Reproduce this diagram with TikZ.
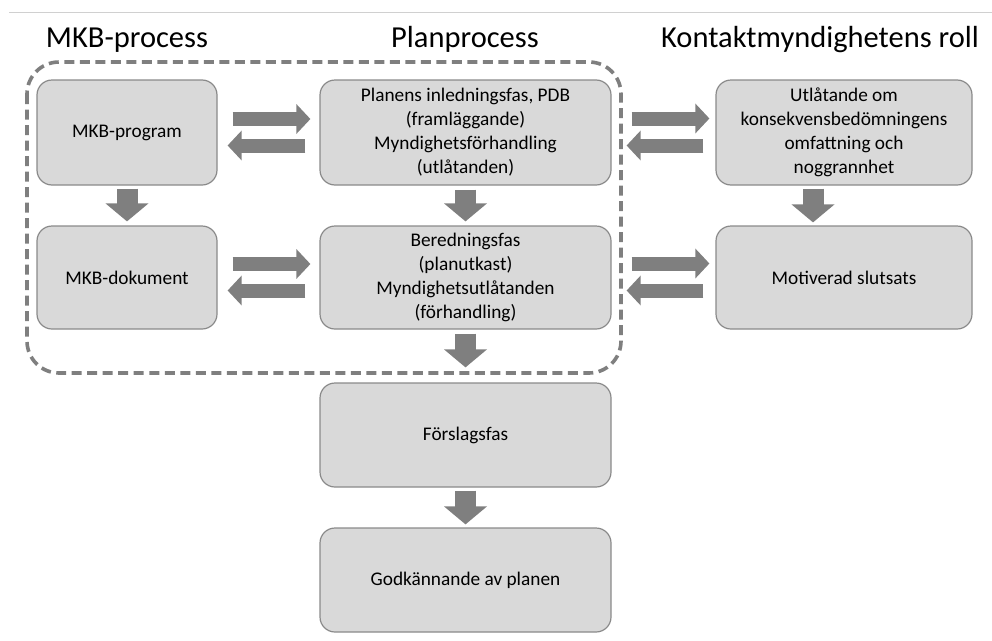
\documentclass[tikz,border=0pt]{standalone}
\usepackage{fontspec}
\setmainfont{Carlito}
\usetikzlibrary{arrows.meta,calc}
\definecolor{boxfill}{HTML}{D9D9D9}
\definecolor{boxline}{HTML}{8A8A8A}
\definecolor{arrowgray}{HTML}{7F7F7F}
\definecolor{rulegray}{HTML}{D0D0D0}
\tikzset{
  procbox/.style={draw=boxline, line width=1.2pt, fill=boxfill, rounded corners=15pt,
    align=center, inner sep=0pt, font=\fontsize{19.3}{24}\selectfont},
  titletext/.style={anchor=base, inner sep=0pt, font=\fontsize{30.5}{32}\selectfont},
  harr/.style={draw=arrowgray, line width=14pt, -{Triangle[length=14pt,width=29pt]}, arrowgray},
  varr/.style={draw=arrowgray, line width=21pt, -{Triangle[length=18pt,width=42pt]}, arrowgray},
  framebox/.style={draw=arrowgray, line width=3.6pt, dash pattern=on 10pt off 5.5pt, rounded corners=32pt}
}
\begin{document}
\begin{tikzpicture}[x=1pt,y=-1pt]
\useasboundingbox (0,0) rectangle (992,640);
% top rule
\coordinate (ruleL) at (9,12);
\coordinate (ruleR) at (992,12);
\draw[rulegray, line width=1pt] (ruleL) -- (ruleR);
% titles
\node[titletext] (t1) at (127,47) {MKB-process};
\node[titletext] (t2) at (465,47) {Planprocess};
\node[titletext] (t3) at (820,47) {Kontaktmyndighetens roll};
% dashed frame
\draw[framebox] (27,62) rectangle (621,373);
% boxes
\node[procbox, minimum width=180pt, minimum height=105pt] (mp) at (127,132.5) {MKB-program};
\node[procbox, minimum width=291pt, minimum height=105pt] (p1) at (465.5,132.5)
  {Planens inledningsfas, PDB\\(framläggande)\\Myndighetsförhandling\\(utlåtanden)};
\node[procbox, minimum width=256pt, minimum height=105pt] (k1) at (844,132.5)
  {Utlåtande om\\konsekvensbedömningens\\omfattning och\\noggrannhet};
\node[procbox, minimum width=180pt, minimum height=103pt] (md) at (127,277.5) {MKB-dokument};
\node[procbox, minimum width=291pt, minimum height=103pt] (p2) at (465.5,277.5)
  {Beredningsfas\\(planutkast)\\Myndighetsutlåtanden\\(förhandling)};
\node[procbox, minimum width=256pt, minimum height=103pt] (k2) at (844,277.5) {Motiverad slutsats};
\node[procbox, minimum width=291pt, minimum height=104pt] (p3) at (465.5,435) {Förslagsfas};
\node[procbox, minimum width=291pt, minimum height=104pt] (p4) at (465.5,580) {Godkännande av planen};
% horizontal double arrows
\draw[harr] ($(mp.east)+(15,-13.5)$) -- ($(p1.west)+(-9,-13.5)$);
\draw[harr] ($(p1.west)+(-14,13)$) -- ($(mp.east)+(10,13)$);
\draw[harr] ($(p1.east)+(20,-14)$) -- ($(k1.west)+(-6,-14)$);
\draw[harr] ($(k1.west)+(-12,13)$) -- ($(p1.east)+(15,13)$);
\draw[harr] ($(md.east)+(15,-13.5)$) -- ($(p2.west)+(-9,-13.5)$);
\draw[harr] ($(p2.west)+(-14,13)$) -- ($(md.east)+(10,13)$);
\draw[harr] ($(p2.east)+(20,-14)$) -- ($(k2.west)+(-6,-14)$);
\draw[harr] ($(k2.west)+(-12,13)$) -- ($(p2.east)+(15,13)$);
% vertical arrows
\draw[varr] ($(mp.south)+(0,3)$) -- ($(md.north)+(0,-4)$);
\draw[varr] ($(p1.south)+(0,4)$) -- ($(p2.north)+(0,-4)$);
\draw[varr] ($(k1.south)+(-31,3)$) -- ($(k2.north)+(-31,-3)$);
\draw[varr] ($(p2.south)+(0,4)$) -- ($(p3.north)+(0,-15)$);
\draw[varr] ($(p3.south)+(0,3)$) -- ($(p4.north)+(0,-3)$);
\end{tikzpicture}
\end{document}
